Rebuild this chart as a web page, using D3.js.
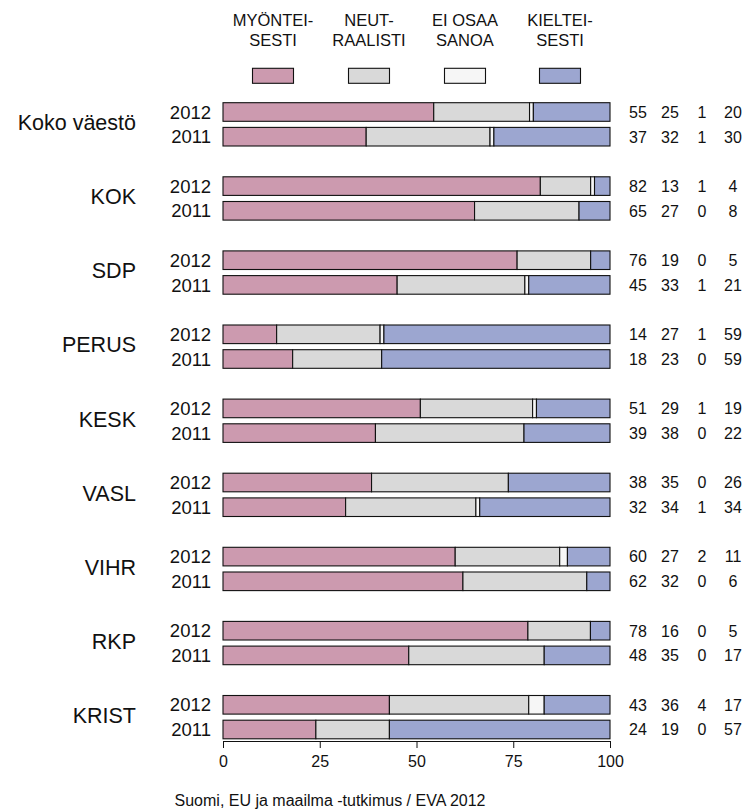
<!DOCTYPE html>
<html>
<head>
<meta charset="utf-8">
<script src="https://cdn.jsdelivr.net/npm/d3@7"></script>
<style>
  body { margin: 0; background: #fff; }
  svg { display: block; font-family: "Liberation Sans", Arial, sans-serif; }
</style>
</head>
<body>
<svg id="chart" width="749" height="811"></svg>
<script>
// --- data ---
const groups = ["Koko väestö", "KOK", "SDP", "PERUS", "KESK", "VASL", "VIHR", "RKP", "KRIST"];
const years = ["2012", "2011"];
const legendLabels = [["MYÖNTEI-", "SESTI"], ["NEUT-", "RAALISTI"], ["EI OSAA", "SANOA"], ["KIELTEI-", "SESTI"]];
const keys = ["myonteisesti", "neutraalisti", "eiosaa", "kielteisesti"];

// one value per row: group order, 2012 then 2011
const myonteisesti = [55, 37, 82, 65, 76, 45, 14, 18, 51, 39, 38, 32, 60, 62, 78, 48, 43, 24];
const neutraalisti = [25, 32, 13, 27, 19, 33, 27, 23, 29, 38, 35, 34, 27, 32, 16, 35, 36, 19];
const eiosaa       = [ 1,  1,  1,  0,  0,  1,  1,  0,  1,  0,  0,  1,  2,  0,  0,  0,  4,  0];
const kielteisesti = [20, 30,  4,  8,  5, 21, 59, 59, 19, 22, 26, 34, 11,  6,  5, 17, 17, 57];
const xTicks = [0, 25, 50, 75, 100];

const colors = ["#cc9aaf", "#d9d9d9", "#f6f6f6", "#9ca6d0"];

const rows = myonteisesti.map((v, i) => ({
    group: groups[Math.floor(i / 2)],
    year: years[i % 2],
    row: Math.floor(i / 2) * 3 + (i % 2),
    myonteisesti: v,
    neutraalisti: neutraalisti[i],
    eiosaa: eiosaa[i],
    kielteisesti: kielteisesti[i]
}));

const svg = d3.select("#chart");

const x = d3.scaleLinear().domain([0, 1]).range([223, 610]);
// row units: 2012 at 3*g, 2011 at 3*g+1
const y = d3.scaleLinear().domain([0, 27]).range([102.7, 102.7 + 27 * 24.7]);
const barH = 18.6;

const stacked = d3.stack().keys(keys).offset(d3.stackOffsetExpand)(rows);

stacked.forEach((layer, k) => {
    svg.append("g")
        .selectAll("rect")
        .data(layer)
        .enter()
        .append("rect")
        .attr("x", d => x(d[0]))
        .attr("y", d => y(d.data.row))
        .attr("width", d => x(d[1]) - x(d[0]))
        .attr("height", barH)
        .attr("fill", colors[k])
        .attr("stroke", "#111")
        .attr("stroke-width", 1.1);
});

// year labels
svg.append("g")
    .selectAll("text")
    .data(rows)
    .enter()
    .append("text")
    .attr("x", 211)
    .attr("y", d => y(d.row) + barH / 2 + 6.6)
    .attr("text-anchor", "end")
    .attr("font-size", 18.5)
    .attr("fill", "#111")
    .text(d => d.year);

// group labels
svg.append("g")
    .selectAll("text")
    .data(groups)
    .enter()
    .append("text")
    .attr("x", 136)
    .attr("y", (d, i) => y(i * 3) + (25 + barH) / 2 - 2 + 7.6)
    .attr("text-anchor", "end")
    .attr("font-size", 21.5)
    .attr("fill", "#111")
    .text(d => d);

// value columns
const colX = [638, 670, 702, 733];
keys.forEach((k, c) => {
    svg.append("g")
        .selectAll("text")
        .data(rows)
        .enter()
        .append("text")
        .attr("x", colX[c])
        .attr("y", d => y(d.row) + barH / 2 + 5.8)
        .attr("text-anchor", "middle")
        .attr("font-size", 16)
        .attr("fill", "#111")
        .text(d => d[k]);
});

// x axis
const axis = svg.append("g")
    .attr("transform", "translate(0,741)")
    .call(d3.axisBottom(x)
        .tickValues(xTicks.map(t => t / 100))
        .tickFormat(d => Math.round(d * 100))
        .tickSize(7)
        .tickSizeOuter(0)
        .tickPadding(8));
axis.selectAll("path, line").attr("stroke", "#111");
axis.selectAll("text").attr("font-size", 16).attr("fill", "#111")
    .attr("font-family", "Liberation Sans, Arial, sans-serif");

// legend
const legX = [273, 369, 465, 560];
const leg = svg.append("g")
    .selectAll("g")
    .data(legendLabels)
    .enter()
    .append("g")
    .attr("transform", (d, i) => `translate(${legX[i]},0)`);

leg.append("text")
    .attr("y", 26)
    .attr("text-anchor", "middle")
    .attr("font-size", 16.5)
    .attr("fill", "#111")
    .text(d => d[0]);

leg.append("text")
    .attr("y", 46)
    .attr("text-anchor", "middle")
    .attr("font-size", 16.5)
    .attr("fill", "#111")
    .text(d => d[1]);

leg.append("rect")
    .attr("x", -20.5)
    .attr("y", 68.3)
    .attr("width", 41)
    .attr("height", 15)
    .attr("fill", (d, i) => colors[i])
    .attr("stroke", "#111")
    .attr("stroke-width", 1.1);

// footer
svg.append("text")
    .attr("x", 330)
    .attr("y", 806)
    .attr("text-anchor", "middle")
    .attr("font-size", 16)
    .attr("fill", "#111")
    .text("Suomi, EU ja maailma -tutkimus / EVA 2012");
</script>
</body>
</html>
